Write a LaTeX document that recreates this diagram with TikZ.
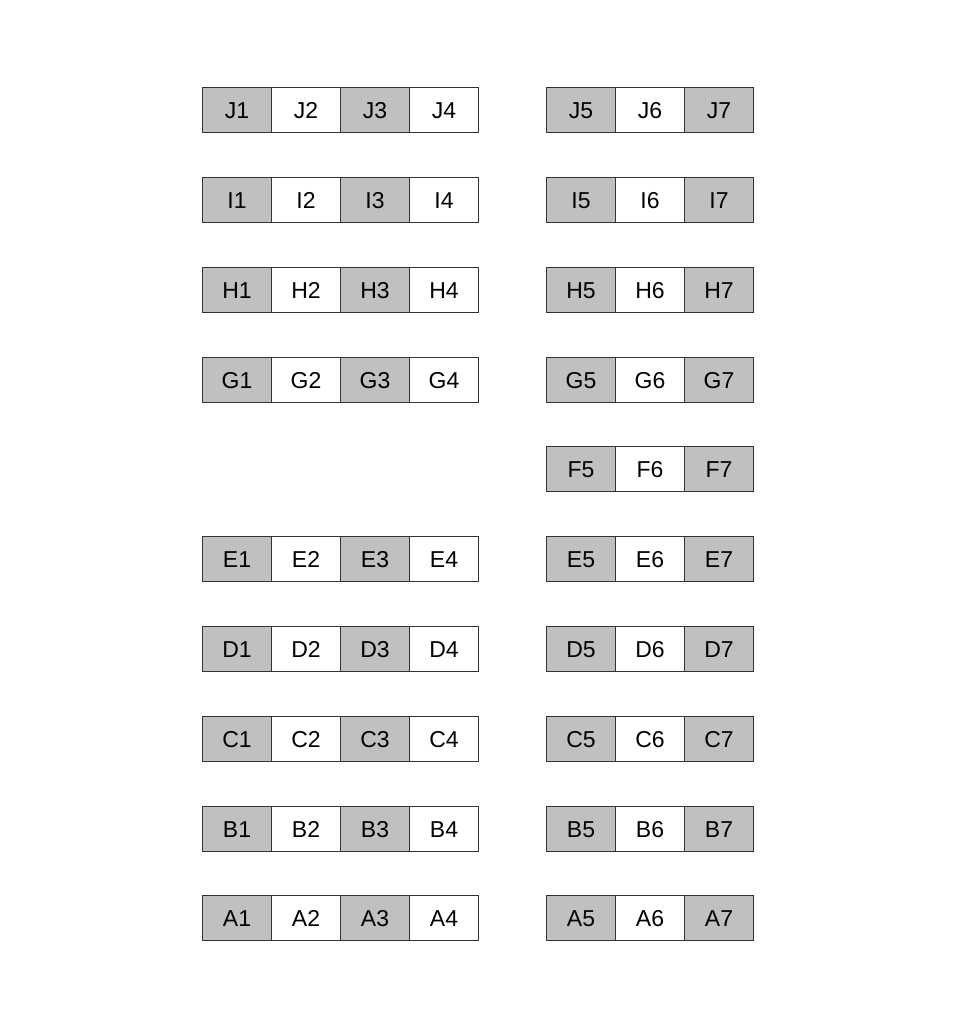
\documentclass[tikz,border=0pt]{standalone}
\usepackage{fontspec}
\setmainfont{Liberation Sans}
\usetikzlibrary{positioning}

\definecolor{seatgray}{HTML}{C0C0C0}

\tikzset{
  seat/.style={shape=rectangle, draw=black!80, line width=1.4pt, outer sep=0pt,
    inner sep=0pt, minimum width=69pt, minimum height=45pt,
    text height=16.5pt, text depth=0pt,
    font=\fontsize{23}{28}\selectfont},
  taken/.style={seat, fill=seatgray}
}

\begin{document}
\begin{tikzpicture}
  \useasboundingbox (0,0) rectangle (966pt,1024pt);

  % left block, rows 1-4 (no row F)
  \foreach \r/\y in {J/914,I/824,H/734,G/644,E/465,D/375,C/285,B/195,A/106} {
    \node[taken] (\r1) at (237pt,\y pt) {\r1};
    \node[seat] (\r2) [right = 0pt of \r1] {\r2};
    \node[taken] (\r3) [right = 0pt of \r2] {\r3};
    \node[seat] (\r4) [right = 0pt of \r3] {\r4};
  }

  % right block, rows 5-7
  \foreach \r/\y in {J/914,I/824,H/734,G/644,F/555,E/465,D/375,C/285,B/195,A/106} {
    \node[taken] (\r5) at (581pt,\y pt) {\r5};
    \node[seat] (\r6) [right = 0pt of \r5] {\r6};
    \node[taken] (\r7) [right = 0pt of \r6] {\r7};
  }
\end{tikzpicture}
\end{document}
